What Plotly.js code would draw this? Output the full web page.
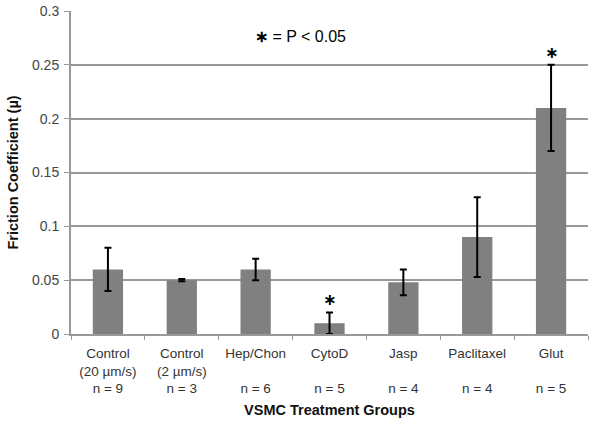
<!DOCTYPE html>
<html><head><meta charset="utf-8">
<script src="https://cdn.plot.ly/plotly-3.0.1.min.js"></script>
<style>html,body{margin:0;padding:0;background:#fff;}#chart{width:604px;height:424px;}</style>
</head><body><div id="chart"></div>
<script>
const categories = ["Control<br>(20 µm/s)<br>n = 9", "Control<br>(2 µm/s)<br>n = 3", "Hep/Chon<br> <br>n = 6", "CytoD<br> <br>n = 5", "Jasp<br> <br>n = 4", "Paclitaxel<br> <br>n = 4", "Glut<br> <br>n = 5"];
const values = [0.060, 0.050, 0.060, 0.010, 0.048, 0.090, 0.210];
const errors = [0.020, 0.001, 0.010, 0.010, 0.012, 0.037, 0.040];
const significant = [false, false, false, true, false, false, true];

const font = "Liberation Sans, Arial, sans-serif";
const stars = [];
categories.forEach((c, i) => {
  if (significant[i]) stars.push({
    x: c, y: values[i] + errors[i], xref: 'x', yref: 'y',
    text: '<b>∗</b>', showarrow: false, yanchor: 'bottom', yshift: 1,
    font: {family: 'DejaVu Sans, sans-serif', size: 16, color: '#000'}
  });
});
stars.push({
  x: 0.443, y: 0.955, xref: 'paper', yref: 'paper', text: '<b>∗</b> = P < 0.05',
  showarrow: false, font: {family: font, size: 16, color: '#000'}
});

Plotly.newPlot('chart', [{
  type: 'bar', x: categories, y: values,
  marker: {color: '#808080'},
  error_y: {type: 'data', array: errors, visible: true, color: '#000', thickness: 2, width: 3.5}
}], {
  width: 604, height: 424,
  margin: {l: 71, r: 16, t: 11, b: 90},
  paper_bgcolor: '#fff', plot_bgcolor: '#fff',
  bargap: 0.59,
  showlegend: false,
  font: {family: font, color: '#333'},
  xaxis: {
    type: 'category', showline: true, linecolor: '#999', linewidth: 2,
    ticks: 'outside', tickson: 'boundaries', ticklen: 4, tickcolor: '#999',
    tickfont: {family: font, size: 13.5, color: '#333'},
    ticklabelstandoff: 6,
    showgrid: false,
    title: {text: '<b>VSMC Treatment Groups</b>', font: {family: font, size: 14.5, color: '#111'}, standoff: 10}
  },
  yaxis: {
    range: [0, 0.3], dtick: 0.05, showline: true, linecolor: '#999', linewidth: 2,
    ticks: 'outside', ticklen: 5, tickcolor: '#999',
    gridcolor: '#999', gridwidth: 2, zeroline: false,
    tickfont: {family: font, size: 14, color: '#444'},
    ticklabelstandoff: 2,
    title: {text: '<b>Friction Coefficient (µ)</b>', font: {family: font, size: 14.5, color: '#111'}, standoff: 10}
  },
  annotations: stars
}, {displayModeBar: false, staticPlot: true});
</script></body></html>
